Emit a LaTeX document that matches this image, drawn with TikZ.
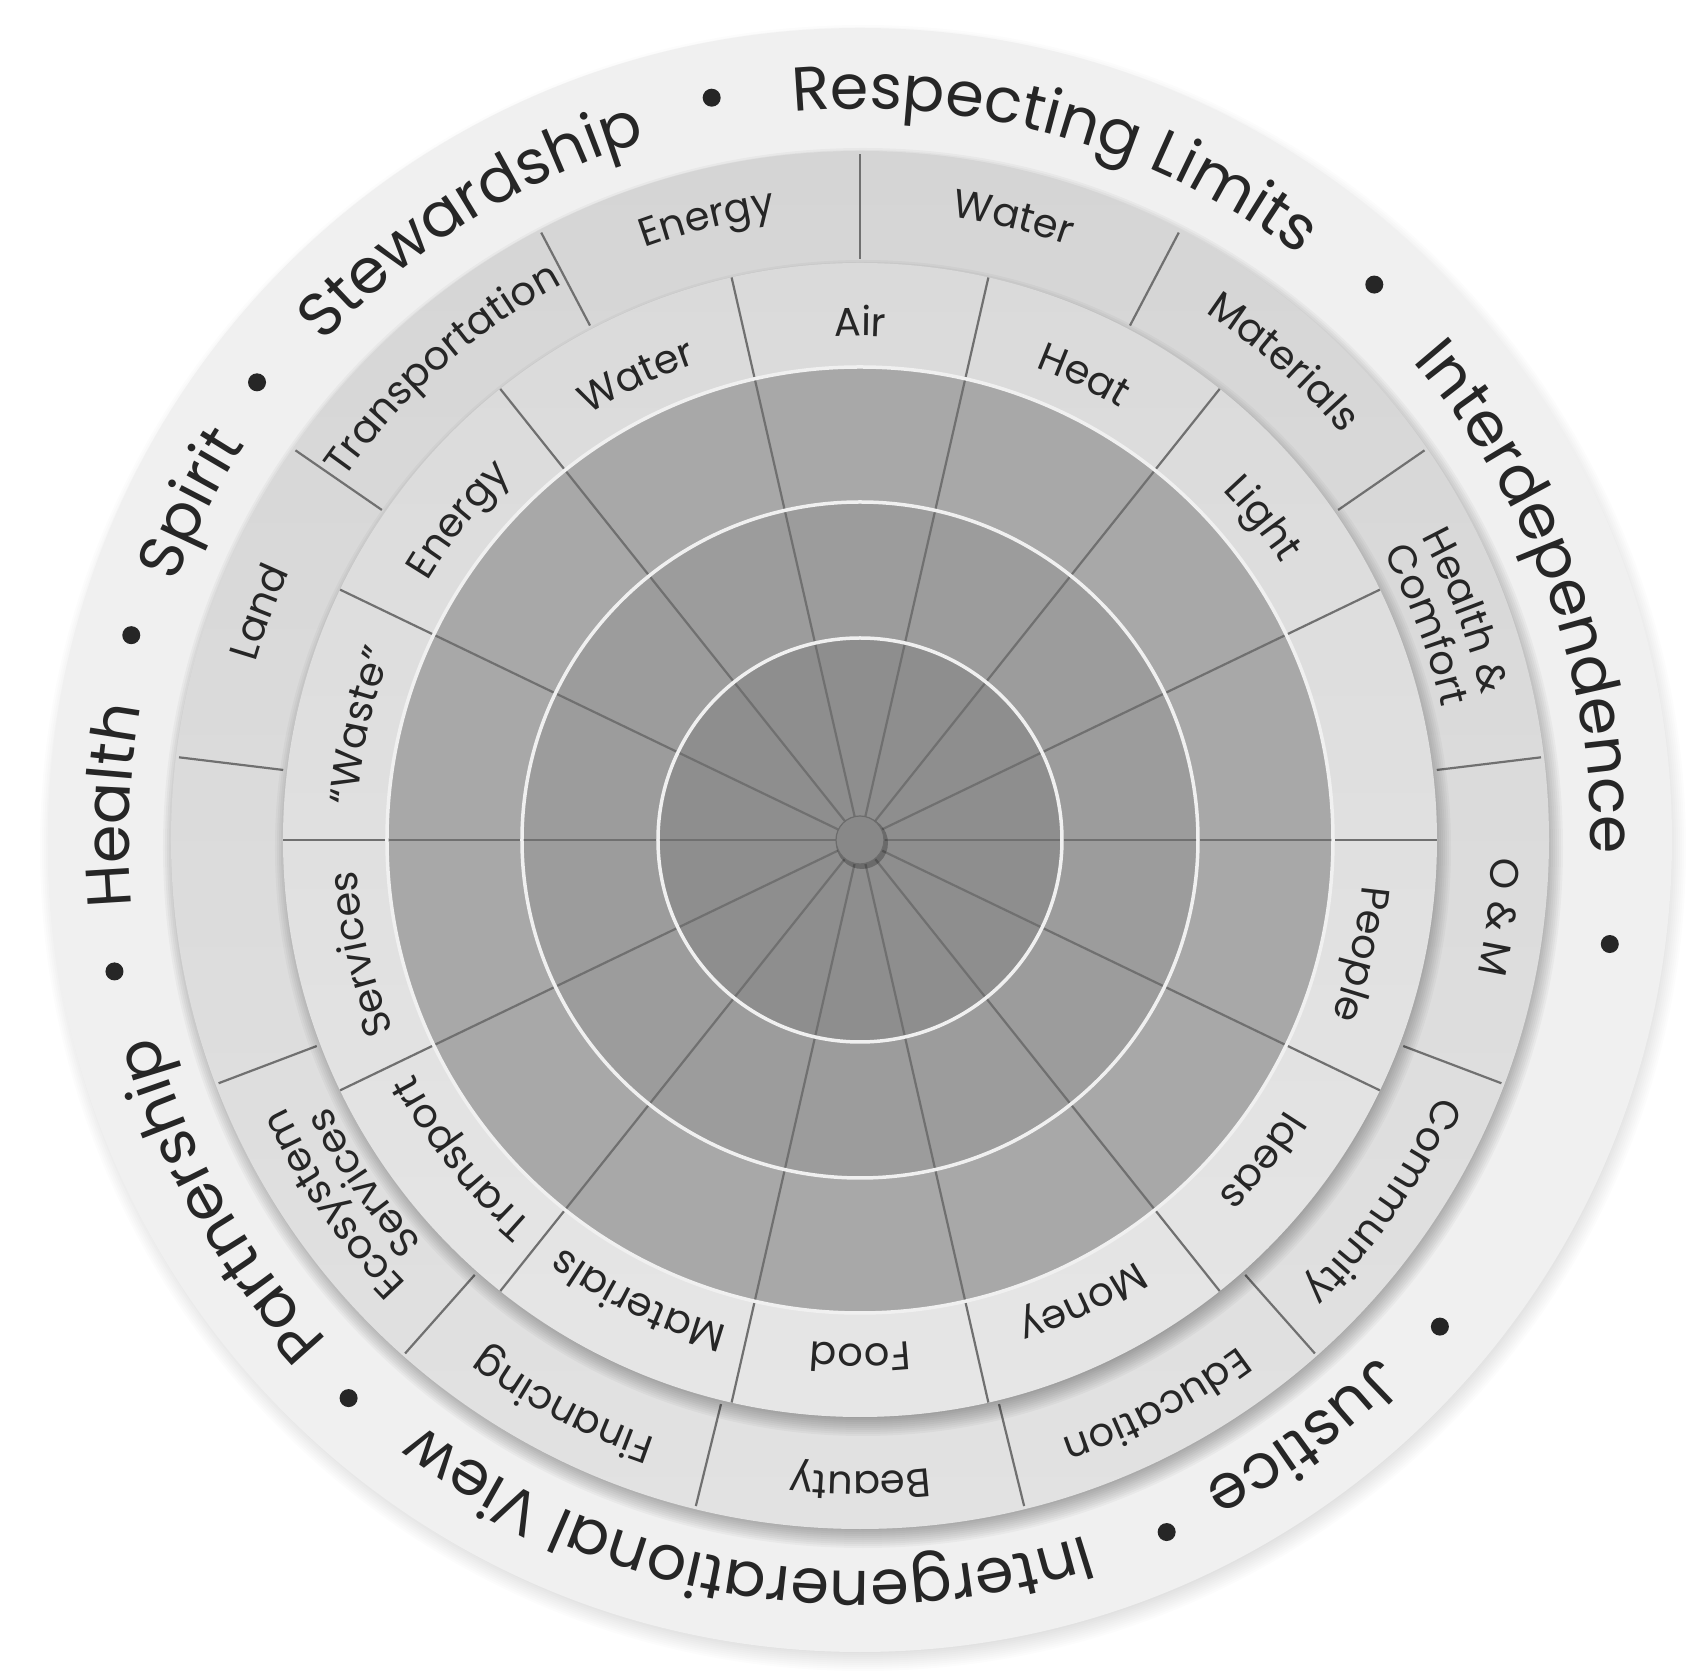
\documentclass[tikz,border=0pt]{standalone}
\usepackage{fontspec}
\setmainfont{Poppins}
\usetikzlibrary{decorations.text}

\definecolor{rimgray}{HTML}{F0F0F0}
\definecolor{ringtop}{HTML}{D5D5D5}
\definecolor{ringbottom}{HTML}{E2E2E2}
\definecolor{labeltop}{HTML}{DADADA}
\definecolor{labelbottom}{HTML}{E6E6E6}
\definecolor{bandgray}{HTML}{A8A8A8}
\definecolor{midgray}{HTML}{9C9C9C}
\definecolor{coregray}{HTML}{8E8E8E}
\definecolor{dotgray}{HTML}{888888}
\definecolor{spokegray}{HTML}{707070}
\definecolor{inkgray}{HTML}{262626}

\newcommand{\rimfont}{\fontsize{62}{68}\selectfont\color{inkgray}}
\newcommand{\labfont}{\fontsize{40}{44}\selectfont\color{inkgray}}

% clockwise arc text: start angle, end angle, radius, text
\newcommand{\arclabel}[4]{%
  \path[decorate, decoration={text along path, text align=center, text={|\labfont|#4}}]
    (#1:#3) arc[start angle=#1, end angle=#2, radius=#3];}
% rim phrase centred on an angle
\newcommand{\rimtext}[2]{%
  \path[decorate, decoration={text along path, text align=center, text={|\rimfont|#2}}]
    (#1+36:731) arc[start angle=#1+36, end angle=#1-36, radius=731];}
\newcommand{\softshadow}[2]{%
  \foreach \s in {0,...,9}
    \fill[black, opacity=#2] (3,-8) circle[radius=#1+11-2*\s];}

\begin{document}
\begin{tikzpicture}[x=1pt, y=1pt,
    spoke/.style={draw=spokegray, line width=2.2pt},
    ringline/.style={draw=white!94!black, line width=3.5pt}]
  \useasboundingbox (-860,-837) rectangle (843,840);
  \fill[white] (-860,-837) rectangle (843,840);
  \coordinate (C) at (0,0);

  % outer rim
  \softshadow{812}{0.012}
  \fill[rimgray] (C) circle[radius=812];

  % second ring
  \softshadow{689}{0.03}
  \shade[top color=ringtop, bottom color=ringbottom] (C) circle[radius=689];
  \foreach \k in {0,...,12}
    \draw[spoke] ({90-\k*360/13}:581) -- ({90-\k*360/13}:686);

  % label ring and core
  \softshadow{577}{0.03}
  \shade[top color=labeltop, bottom color=labelbottom] (C) circle[radius=577];
  \fill[bandgray] (C) circle[radius=473];
  \fill[midgray] (C) circle[radius=338];
  \fill[coregray] (C) circle[radius=202];
  \foreach \k in {0,...,13}
    \draw[spoke] (C) -- ({\k*360/14}:577);
  \foreach \r in {473,338,202}
    \draw[ringline] (C) circle[radius=\r];
  \fill[black, opacity=0.25] (2,-3) circle[radius=26];
  \fill[dotgray, draw=gray!85!black, line width=1.2pt] (C) circle[radius=24];

  % rim phrases
  \rimtext{122.1}{Stewardship}
  \rimtext{74.15}{Respecting Limits}
  \rimtext{19.9}{Interdependence}
  \rimtext{-53.4}{Justice}
  \rimtext{-99.45}{Intergenerational View}
  \rimtext{-150.65}{Partnership}
  \rimtext{177.35}{Health}
  \rimtext{153.3}{Spirit}
  \foreach \a in {101.3,47.2,-7.9,-40.0,-66.1,-132.5,-170.0,164.3,142.8}
    \fill[inkgray] (\a:757) circle[radius=9];

  % second ring labels
  \arclabel{90}{62.308}{630}{Water}
  \arclabel{62.308}{34.615}{630}{Materials}
  \arclabel{34.615}{6.923}{638}{Health {\&}}
  \arclabel{34.615}{6.923}{597}{Comfort}
  \arclabel{6.923}{-20.769}{632}{O {\&} M}
  \arclabel{-20.769}{-48.462}{632}{Community}
  \arclabel{-48.462}{-76.154}{632}{Education}
  \arclabel{-76.154}{-103.846}{632}{Beauty}
  \arclabel{-103.846}{-131.538}{632}{Financing}
  \arclabel{-131.538}{-159.231}{634}{Ecosystem}
  \arclabel{-131.538}{-159.231}{594}{Services}
  \arclabel{-186.923}{-214.615}{630}{Land}
  \arclabel{-214.615}{-242.308}{630}{Transportation}
  \arclabel{-242.308}{-270}{630}{Energy}

  % label ring labels
  \arclabel{51.429}{25.714}{504}{Light}
  \arclabel{77.143}{51.429}{504}{Heat}
  \arclabel{102.857}{77.143}{504}{Air}
  \arclabel{128.571}{102.857}{504}{Water}
  \arclabel{154.286}{128.571}{504}{Energy}
  \arclabel{180}{154.286}{504}{“Waste”}
  \arclabel{205.714}{180}{504}{Services}
  \arclabel{231.429}{205.714}{504}{Transport}
  \arclabel{257.143}{231.429}{504}{Materials}
  \arclabel{282.857}{257.143}{504}{Food}
  \arclabel{308.571}{282.857}{504}{Money}
  \arclabel{334.286}{308.571}{504}{Ideas}
  \arclabel{360}{334.286}{504}{People}
\end{tikzpicture}
\end{document}
